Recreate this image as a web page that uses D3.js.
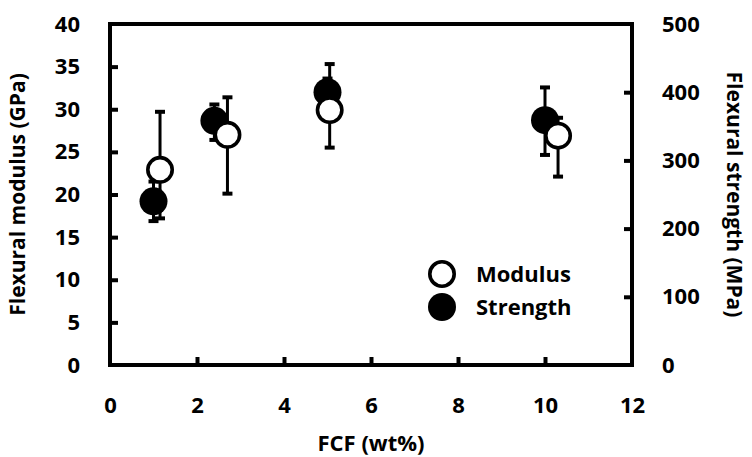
<!DOCTYPE html>
<html><head><meta charset="utf-8">
<script src="https://cdn.jsdelivr.net/npm/d3@7"></script>
<style>body{margin:0;background:#fff}svg{display:block}text{font-family:"Open Sans",sans-serif;font-weight:bold;fill:#000}</style>
</head><body><svg id="c" width="752" height="457"></svg>
<script>
const xTicks = [0, 2, 4, 6, 8, 10, 12];
const leftTicks = [0, 5, 10, 15, 20, 25, 30, 35, 40];
const rightTicks = [0, 100, 200, 300, 400, 500];
const modX = [1.15, 2.7, 5.05, 10.3];
const modY = [22.9, 27.0, 29.9, 26.9];
const modHi = [29.7, 31.4, 35.3, 29.0];
const modLo = [17.2, 20.1, 25.5, 22.1];
const strX = [1.0, 2.4, 5.0, 10.0];
const strY = [240, 358, 400, 359];
const strHi = [269, 382, 420, 407];
const strLo = [211, 330, 380, 308];
const legendLabels = ["Modulus", "Strength"];

const svg = d3.select("#c");
const L = 110, R = 632, T = 24, B = 365;
const x = d3.scaleLinear().domain([0, 12]).range([L, R]);
const yL = d3.scaleLinear().domain([0, 40]).range([B, T]);
const yR = d3.scaleLinear().domain([0, 500]).range([B, T]);
const SW = 4, FS = 22;

// frame
svg.append("rect").attr("x", L).attr("y", T).attr("width", R - L).attr("height", B - T)
  .attr("fill", "none").attr("stroke", "#000").attr("stroke-width", SW);

// axes
const ax = svg.append("g").attr("transform", `translate(0,${B})`)
  .call(d3.axisBottom(x).tickValues(xTicks).tickSizeInner(-8).tickSizeOuter(0).tickPadding(32).tickFormat(d3.format("d")));
const ay = svg.append("g").attr("transform", `translate(${L},0)`)
  .call(d3.axisLeft(yL).tickValues(leftTicks).tickSizeInner(-8).tickSizeOuter(0).tickPadding(30).tickFormat(d3.format("d")));
const ayr = svg.append("g").attr("transform", `translate(${R},0)`)
  .call(d3.axisRight(yR).tickValues(rightTicks).tickSizeInner(-8).tickSizeOuter(0).tickPadding(30).tickFormat(d3.format("d")));
[ax, ay, ayr].forEach(g => {
  g.select(".domain").remove();
  g.selectAll(".tick line").attr("stroke", "#000").attr("stroke-width", SW);
  g.selectAll(".tick text").attr("font-size", FS).attr("font-family", "Open Sans").attr("font-weight", "bold").attr("fill", "#000");
});
ax.selectAll(".tick").filter(d => d === 0 || d === 12).select("line").remove();
ay.selectAll(".tick").filter(d => d === 0 || d === 40).select("line").remove();
ayr.selectAll(".tick").filter(d => d === 0 || d === 500).select("line").remove();

// titles
svg.append("text").attr("x", (L + R) / 2).attr("y", 451).attr("text-anchor", "middle")
  .attr("font-size", FS).text("FCF (wt%)");
svg.append("text").attr("transform", `translate(25,${(T + B) / 2}) rotate(-90)`).attr("text-anchor", "middle")
  .attr("font-size", 21).text("Flexural modulus (GPa)");
svg.append("text").attr("transform", `translate(727,${(T + B) / 2}) rotate(90)`).attr("text-anchor", "middle")
  .attr("font-size", 21).text("Flexural strength (MPa)");

function errBars(xs, lo, hi, ys) {
  const g = svg.append("g").attr("stroke", "#000");
  xs.forEach((xv, i) => {
    g.append("line").attr("x1", x(xv)).attr("x2", x(xv)).attr("y1", ys(lo[i])).attr("y2", ys(hi[i])).attr("stroke-width", 3);
    [lo[i], hi[i]].forEach(v => {
      g.append("line").attr("x1", x(xv) - 5).attr("x2", x(xv) + 5).attr("y1", ys(v)).attr("y2", ys(v)).attr("stroke-width", 4);
    });
  });
}

errBars(strX, strLo, strHi, yR);
svg.append("g").selectAll("circle").data(strX).join("circle")
  .attr("cx", d => x(d)).attr("cy", (d, i) => yR(strY[i])).attr("r", 14).attr("fill", "#000");
errBars(modX, modLo, modHi, yL);
svg.append("g").selectAll("circle").data(modX).join("circle")
  .attr("cx", d => x(d)).attr("cy", (d, i) => yL(modY[i])).attr("r", 12.2)
  .attr("fill", "#fff").attr("stroke", "#000").attr("stroke-width", 3.6);

// legend
const lg = svg.append("g");
lg.append("circle").attr("cx", 442).attr("cy", 274).attr("r", 12.2).attr("fill", "#fff").attr("stroke", "#000").attr("stroke-width", 3.6);
lg.append("circle").attr("cx", 442).attr("cy", 307).attr("r", 14).attr("fill", "#000");
lg.append("text").attr("x", 476).attr("y", 282).attr("font-size", FS).text(legendLabels[0]);
lg.append("text").attr("x", 476).attr("y", 315).attr("font-size", FS).text(legendLabels[1]);
</script></body></html>
